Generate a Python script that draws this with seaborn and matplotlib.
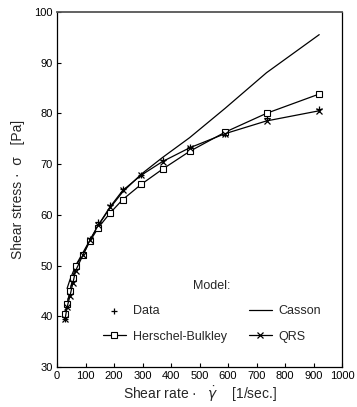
import matplotlib
matplotlib.use("Agg")
import matplotlib.pyplot as plt
import seaborn as sns
import numpy as np

sns.set_theme(style="ticks")
plt.rcParams['font.family'] = ['Liberation Sans', 'DejaVu Sans']

# Measured data
data_x = [28, 35, 45, 55, 65, 90, 115, 145, 185, 230, 295, 370, 465, 590, 735, 920]
data_y = [39.5, 42.0, 44.5, 47.0, 50.0, 52.0, 55.2, 58.6, 62.0, 65.0, 67.8, 70.8, 73.4, 76.0, 79.0, 80.8]

# Casson model
cas_x = [35, 45, 65, 90, 115, 145, 185, 230, 295, 370, 465, 590, 735, 920]
cas_y = [45.5, 47.2, 50.0, 52.5, 55.0, 58.0, 61.3, 64.5, 68.0, 71.3, 75.2, 81.0, 88.0, 95.5]

# Herschel-Bulkley model
hb_x = [28, 35, 45, 55, 65, 90, 115, 145, 185, 230, 295, 370, 465, 590, 735, 920]
hb_y = [40.5, 42.5, 45.0, 47.5, 50.0, 52.0, 54.8, 57.5, 60.3, 63.0, 66.0, 69.0, 72.5, 76.3, 80.0, 83.8]

# QRS model
qrs_x = [28, 35, 45, 55, 65, 90, 115, 145, 185, 230, 295, 370, 465, 590, 735, 920]
qrs_y = [39.5, 41.8, 44.0, 46.5, 49.0, 52.0, 55.0, 58.0, 61.5, 64.8, 67.8, 70.5, 73.2, 76.0, 78.5, 80.5]

xticks = list(range(0, 1001, 100))
yticks = list(range(30, 101, 10))

fig = plt.figure(figsize=(3.57, 4.07), dpi=100)
ax = fig.add_axes([0.16, 0.098, 0.798, 0.873])

lw = 0.9
sns.lineplot(x=cas_x, y=cas_y, ax=ax, color="black", linewidth=lw, label="Casson", sort=False)
sns.lineplot(x=hb_x, y=hb_y, ax=ax, color="black", linewidth=lw, marker="s", markersize=5,
             markerfacecolor="white", markeredgecolor="black", markeredgewidth=0.8,
             label="Herschel-Bulkley", sort=False)
sns.lineplot(x=qrs_x, y=qrs_y, ax=ax, color="black", linewidth=lw, marker="x", markersize=5,
             markeredgecolor="black", markeredgewidth=0.9, label="QRS", sort=False)
sns.scatterplot(x=data_x, y=data_y, ax=ax, marker="+", s=25, color="black", linewidth=0.9,
                label="Data")

ax.set_xlim(0, 1000)
ax.set_ylim(30, 100)
ax.set_xticks(xticks)
ax.set_yticks(yticks)
ax.tick_params(direction="in", length=3, width=0.8, labelsize=8, colors="black", pad=3)
for s in ax.spines.values():
    s.set_visible(True)
    s.set_color("black")
    s.set_linewidth(0.9)
ax.spines['top'].set_color("#555555")
ax.spines['top'].set_linewidth(1.3)

ax.set_xlabel("Shear rate ·   $\\dot{\\gamma}$    [1/sec.]", fontsize=10, labelpad=2)
ax.set_ylabel("Shear stress ·  σ   [Pa]", fontsize=10, labelpad=7)

handles, labels = ax.get_legend_handles_labels()
order = [labels.index(l) for l in ["Data", "Herschel-Bulkley", "Casson", "QRS"]]
leg = ax.legend([handles[i] for i in order], [labels[i] for i in order],
                title="Model:", ncol=2, frameon=False, fontsize=9, title_fontsize=9,
                loc="upper left", bbox_to_anchor=(0.122, 0.276), handlelength=1.8,
                columnspacing=1.8, labelspacing=1.05, handletextpad=0.55)

fig.savefig("out.png", dpi=100)
